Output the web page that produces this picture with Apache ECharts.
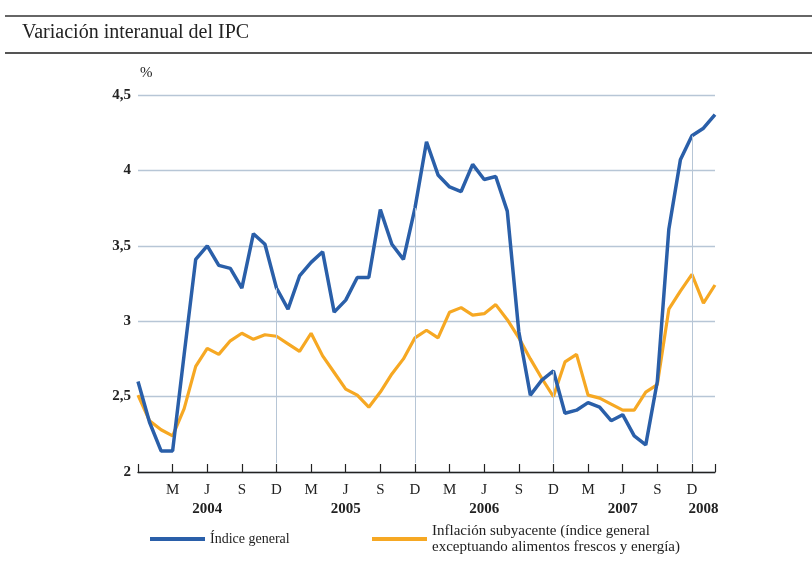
<!DOCTYPE html>
<html lang="es">
<head>
<meta charset="UTF-8">
<title>Variación interanual del IPC</title>
<script src="https://cdn.jsdelivr.net/npm/echarts@6/dist/echarts.min.js"></script>
<style>
  html, body { margin: 0; padding: 0; background: #fff; }
  #chart { width: 812px; height: 572px; }
</style>
</head>
<body>
<div id="chart"></div>
<script>
// meses (dic 2003 - feb 2008)
const categories = [
  '2003-12',
  '2004-01','2004-02','2004-03','2004-04','2004-05','2004-06','2004-07','2004-08','2004-09','2004-10','2004-11','2004-12',
  '2005-01','2005-02','2005-03','2005-04','2005-05','2005-06','2005-07','2005-08','2005-09','2005-10','2005-11','2005-12',
  '2006-01','2006-02','2006-03','2006-04','2006-05','2006-06','2006-07','2006-08','2006-09','2006-10','2006-11','2006-12',
  '2007-01','2007-02','2007-03','2007-04','2007-05','2007-06','2007-07','2007-08','2007-09','2007-10','2007-11','2007-12',
  '2008-01','2008-02'
];

// Índice general
const general = [
  2.60,
  2.33, 2.14, 2.14, 2.78, 3.41, 3.50, 3.37, 3.35, 3.22, 3.58, 3.51, 3.22,
  3.08, 3.30, 3.39, 3.46, 3.06, 3.14, 3.29, 3.29, 3.74, 3.51, 3.41, 3.75,
  4.19, 3.97, 3.89, 3.86, 4.04, 3.94, 3.96, 3.73, 2.93, 2.51, 2.61, 2.67,
  2.39, 2.41, 2.46, 2.43, 2.34, 2.38, 2.24, 2.18, 2.60, 3.61, 4.07, 4.23,
  4.28, 4.37
];

// Inflación subyacente
const subyacente = [
  2.51,
  2.34, 2.28, 2.24, 2.42, 2.70, 2.82, 2.78, 2.87, 2.92, 2.88, 2.91, 2.90,
  2.85, 2.80, 2.92, 2.77, 2.66, 2.55, 2.51, 2.43, 2.53, 2.65, 2.75, 2.89,
  2.94, 2.89, 3.06, 3.09, 3.04, 3.05, 3.11, 3.01, 2.89, 2.75, 2.62, 2.50,
  2.73, 2.78, 2.51, 2.49, 2.45, 2.41, 2.41, 2.53, 2.58, 3.08, 3.20, 3.31,
  3.12, 3.24
];

// etiquetas del eje
const monthLetter = { '03': 'M', '06': 'J', '09': 'S', '12': 'D' };
const yearLabel = { '2004-06': '2004', '2005-06': '2005', '2006-06': '2006', '2007-06': '2007', '2008-01': '2008' };
const dropMonths = ['2004-12', '2005-12', '2006-12', '2007-12'];

const nameGeneral = 'Índice general';
const nameSub = 'Inflación subyacente (índice general\nexceptuando alimentos frescos y energía)';

const serif = '"Liberation Serif", "DejaVu Serif", serif';
const blue = '#2a5fa9';
const orange = '#f6a823';
const gridColor = '#b7c6d6';

let chart = echarts.init(document.getElementById('chart'));

// líneas verticales en diciembre, del índice general hasta el eje
let dropLines = dropMonths.map(m => {
  let i = categories.indexOf(m);
  return [{ coord: [m, general[i]] }, { coord: [m, 2.06] }];
});

chart.setOption({
  animation: false,
  textStyle: { fontFamily: serif },
  graphic: [
    { type: 'line', shape: { x1: 5, y1: 16, x2: 812, y2: 16 }, style: { stroke: '#333', lineWidth: 1.3 } },
    { type: 'line', shape: { x1: 5, y1: 53, x2: 812, y2: 53 }, style: { stroke: '#555', lineWidth: 2 } },
    {
      type: 'text', left: 22, top: 23,
      style: { text: 'Variación interanual del IPC', fontFamily: serif, fontSize: 20, fill: '#222' }
    }
  ],
  legend: [
    {
      data: [nameGeneral], left: 150, top: 531.5, padding: 0,
      itemWidth: 55, itemHeight: 4, icon: 'rect',
      textStyle: { fontFamily: serif, fontSize: 14, color: '#222', lineHeight: 15 }
    },
    {
      data: [nameSub], left: 372, top: 515, padding: 0,
      itemWidth: 55, itemHeight: 4, icon: 'rect',
      textStyle: { fontFamily: serif, fontSize: 15, color: '#222', lineHeight: 16, padding: [16, 0, 0, 0] }
    }
  ],
  grid: { left: 138, right: 97, top: 95, bottom: 100 },
  xAxis: [
    {
      type: 'category',
      data: categories,
      boundaryGap: false,
      axisLine: { lineStyle: { color: '#222', width: 1.3 } },
      axisTick: {
        inside: true, length: 8,
        lineStyle: { color: '#222', width: 1.2 },
        interval: (i, v) => monthLetter[v.slice(5)] !== undefined || i === categories.length - 1
      },
      axisLabel: {
        margin: 9,
        interval: (i, v) => i > 0 && monthLetter[v.slice(5)] !== undefined,
        formatter: v => monthLetter[v.slice(5)],
        fontFamily: serif, fontSize: 15, color: '#222', lineHeight: 18
      },
      splitLine: { show: false }
    },
    {
      // años
      type: 'category',
      data: categories,
      position: 'bottom',
      boundaryGap: false,
      axisLine: { show: false },
      axisTick: { show: false },
      axisLabel: {
        margin: 28,
        interval: (i, v) => yearLabel[v] !== undefined,
        formatter: v => yearLabel[v] || '',
        fontFamily: serif, fontSize: 15, fontWeight: 'bold', color: '#222', lineHeight: 18
      },
      splitLine: { show: false }
    }
  ],
  yAxis: {
    type: 'value',
    min: 2, max: 4.5, interval: 0.5,
    name: '%',
    nameLocation: 'end',
    nameGap: 14,
    nameTextStyle: { fontFamily: serif, fontSize: 15, color: '#222', align: 'left', padding: [0, 0, 0, 2] },
    axisLine: { show: false },
    axisTick: { show: false },
    axisLabel: {
      margin: 7,
      fontFamily: serif, fontSize: 15, fontWeight: 'bold', color: '#222',
      formatter: v => String(v).replace('.', ',')
    },
    splitLine: { lineStyle: { color: gridColor, width: 1.3 } }
  },
  series: [
    {
      name: nameSub,
      type: 'line',
      data: subyacente,
      symbol: 'none',
      color: orange,
      lineStyle: { color: orange, width: 3.2 },
      markLine: {
        silent: true,
        symbol: 'none',
        label: { show: false },
        lineStyle: { color: gridColor, width: 1, type: 'solid' },
        data: dropLines
      }
    },
    {
      name: nameGeneral,
      type: 'line',
      data: general,
      symbol: 'none',
      color: blue,
      lineStyle: { color: blue, width: 3.5 }
    }
  ]
});
</script>
</body>
</html>
